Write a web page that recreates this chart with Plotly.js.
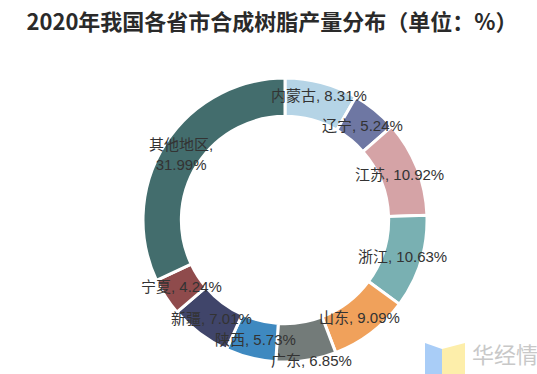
<!DOCTYPE html>
<html>
<head>
<meta charset="utf-8">
<script src="https://cdn.plot.ly/plotly-3.0.1.min.js"></script>
<style>html,body{margin:0;padding:0;background:#fff;}#chart{width:537px;height:374px;}</style>
</head>
<body>
<div id="chart"></div>
<script>
const regions = ["内蒙古", "辽宁", "江苏", "浙江", "山东", "广东", "陕西", "新疆", "宁夏", "其他地区"];
const shares = [8.31, 5.24, 10.92, 10.63, 9.09, 6.85, 5.73, 7.01, 4.24, 31.99];
const colors = ["#b5d4e6", "#6e77a3", "#d5a3a6", "#79b0b2", "#f0a15b", "#737b79", "#3e89c0", "#40456a", "#8f4b4c", "#436d6d"];
const titleText = "2020年我国各省市合成树脂产量分布（单位：%）";

const W = 537, H = 374;
const cx = 285, cy = 220, R = 142, hole = 0.73;
const rLab = R * (1 + hole) / 2;
// small nudges to avoid label collisions (as in the original's label placement)
const nudge = {"广东": [8, 19], "内蒙古": [2, -6]};

const total = shares.reduce((a, b) => a + b, 0);
let cum = 0;
const annotations = [];
shares.forEach((v, i) => {
  const mid = (cum + v / 2) / total * 2 * Math.PI;
  cum += v;
  const n = nudge[regions[i]] || [0, 0];
  const px = cx + rLab * Math.sin(mid) + n[0];
  const py = cy - rLab * Math.cos(mid) + n[1];
  const txt = regions[i].length > 3 ? regions[i] + ",<br>" + v.toFixed(2) + "%" : regions[i] + ", " + v.toFixed(2) + "%";
  annotations.push({
    x: px / W, y: 1 - py / H, xref: "paper", yref: "paper",
    text: txt, showarrow: false, xanchor: "center", yanchor: "middle",
    font: {family: "Liberation Sans, Noto Sans CJK SC, sans-serif", size: 15, color: "#333"}
  });
});

annotations.push({
  x: 470 / W, y: 1 - 353 / H, xref: "paper", yref: "paper", xanchor: "left", yanchor: "middle",
  text: "华经情", showarrow: false,
  font: {family: "Noto Sans CJK SC, sans-serif", size: 22, color: "#c8c8c8"}
});

const trace = {
  type: "pie",
  labels: regions,
  values: shares,
  sort: false,
  direction: "clockwise",
  rotation: 0,
  hole: hole,
  textinfo: "none",
  hoverinfo: "label+percent",
  marker: {colors: colors, line: {color: "#ffffff", width: 3}},
  domain: {x: [(cx - R) / W, (cx + R) / W], y: [1 - (cy + R) / H, 1 - (cy - R) / H]},
  showlegend: false
};

const layout = {
  width: W, height: H,
  margin: {l: 0, r: 0, t: 0, b: 0},
  paper_bgcolor: "#fff",
  title: {
    text: "<b>" + titleText + "</b>",
    x: 272 / W, xanchor: "center", y: 1 - 22 / H, yanchor: "middle",
    font: {family: "Noto Sans CJK SC, serif", size: 22, color: "#2a2a2a"}
  },
  annotations: annotations,
  shapes: [
    {type: "path", xref: "paper", yref: "paper", fillcolor: "#a9cdf7", line: {width: 0},
     path: "M " + (425 / W) + " " + (1 - 343 / H) + " L " + (442 / W) + " " + (1 - 349 / H) + " L " + (442 / W) + " " + (1 - 374 / H) + " L " + (425 / W) + " " + (1 - 374 / H) + " Z"},
    {type: "path", xref: "paper", yref: "paper", fillcolor: "#fdeeaa", line: {width: 0},
     path: "M " + (442 / W) + " " + (1 - 349 / H) + " L " + (465 / W) + " " + (1 - 343 / H) + " L " + (465 / W) + " " + (1 - 374 / H) + " L " + (442 / W) + " " + (1 - 374 / H) + " Z"}
  ]
};

Plotly.newPlot("chart", [trace], layout, {displayModeBar: false, staticPlot: true});
</script>
</body>
</html>
